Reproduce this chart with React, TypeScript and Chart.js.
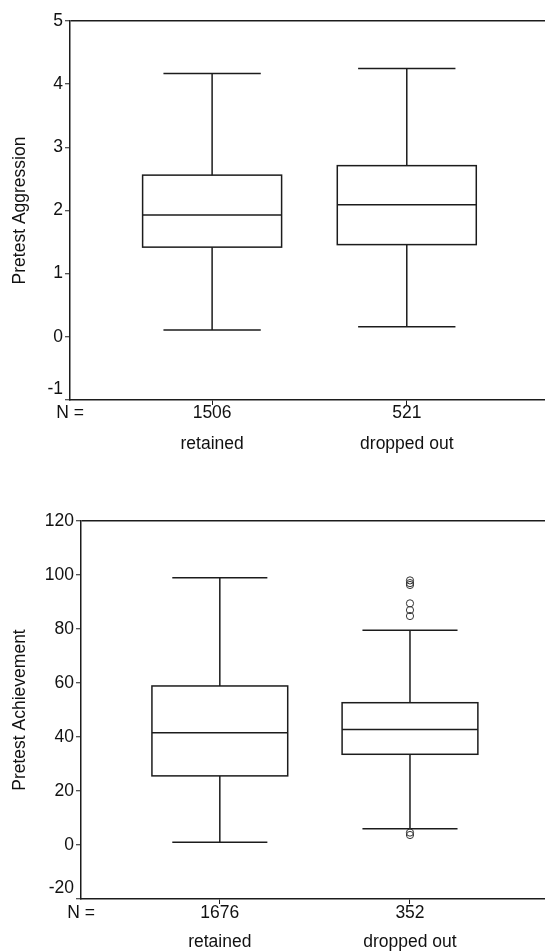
import React, { useEffect, useRef } from "react";
import { Chart, registerables } from "chart.js";

Chart.register(...registerables);

// ---------- data ----------
const categories = ["retained", "dropped out"];
const categoryPositions = [1, 2];

const aggressionN = [1506, 521];
const aggressionMin = [0.11, 0.16];
const aggressionQ1 = [1.42, 1.46];
const aggressionMedian = [1.93, 2.09];
const aggressionQ3 = [2.56, 2.71];
const aggressionMax = [4.17, 4.25];
const aggressionOutliers: number[][] = [[], []];
const aggressionTicks = [-1, 0, 1, 2, 3, 4, 5];

const achievementN = [1676, 352];
const achievementMin = [1.0, 6.0];
const achievementQ1 = [25.6, 33.6];
const achievementMedian = [41.6, 42.8];
const achievementQ3 = [58.9, 52.7];
const achievementMax = [99.0, 79.5];
const achievementOutliers: number[][] = [[], [98.0, 97.0, 96.3, 89.5, 87.0, 84.8, 4.6, 3.7]];
const achievementTicks = [-20, 0, 20, 40, 60, 80, 100, 120];

// ---------- style ----------
const FONT = "'Liberation Sans', Arial, Helvetica, sans-serif";
const INK = "#1c1c1c";
const X_MIN = 0.27;
const X_MAX = 2.71;
const BOX_HALF = 0.357;
const CAP_HALF = 0.25;

type Panel = {
  title: string;
  n: number[];
  mins: number[];
  q1s: number[];
  medians: number[];
  q3s: number[];
  maxs: number[];
  outliers: number[][];
  ticks: number[];
  height: number;
  padTop: number;
  xAxisHeight: number;
  yAxisWidth: number;
  labelLine: number;
  labelPad: number;
};

function boxPlugin(p: Panel) {
  return {
    id: "boxes",
    beforeDatasetsDraw(chart: any) {
      const xs = chart.scales.x;
      const ys = chart.scales.y;
      const ctx = chart.ctx;
      ctx.save();
      ctx.strokeStyle = INK;
      ctx.lineWidth = 1.5;
      categoryPositions.forEach((pos, i) => {
        const cx = xs.getPixelForValue(pos);
        const hw = Math.abs(xs.getPixelForValue(pos + BOX_HALF) - cx);
        const cw = Math.abs(xs.getPixelForValue(pos + CAP_HALF) - cx);
        const yMin = ys.getPixelForValue(p.mins[i]);
        const yQ1 = ys.getPixelForValue(p.q1s[i]);
        const yMed = ys.getPixelForValue(p.medians[i]);
        const yQ3 = ys.getPixelForValue(p.q3s[i]);
        const yMax = ys.getPixelForValue(p.maxs[i]);
        ctx.beginPath();
        ctx.moveTo(cx, yQ3);
        ctx.lineTo(cx, yMax);
        ctx.moveTo(cx, yQ1);
        ctx.lineTo(cx, yMin);
        ctx.moveTo(cx - cw, yMax);
        ctx.lineTo(cx + cw, yMax);
        ctx.moveTo(cx - cw, yMin);
        ctx.lineTo(cx + cw, yMin);
        ctx.moveTo(cx - hw, yMed);
        ctx.lineTo(cx + hw, yMed);
        ctx.stroke();
        ctx.strokeRect(cx - hw, yQ3, hw * 2, yQ1 - yQ3);
      });
      ctx.restore();
    },
  };
}

function makeConfig(p: Panel): any {
  const yMin = p.ticks[0];
  const yMax = p.ticks[p.ticks.length - 1];
  const points: { x: number; y: number }[] = [];
  p.outliers.forEach((list, i) =>
    list.forEach((v) => points.push({ x: categoryPositions[i], y: v }))
  );
  return {
    type: "scatter",
    data: {
      datasets: [
        {
          data: points,
          pointStyle: "circle",
          pointRadius: 3.6,
          borderColor: "#333",
          backgroundColor: "rgba(255,255,255,0)",
          borderWidth: 1,
        },
      ],
    },
    options: {
      animation: false,
      responsive: false,
      events: [],
      layout: {
        autoPadding: false,
        padding: { top: p.padTop, left: 0, right: 0, bottom: 0 },
      },
      plugins: { legend: { display: false }, tooltip: { enabled: false } },
      scales: {
        x: {
          type: "linear",
          min: X_MIN,
          max: X_MAX,
          afterBuildTicks: (axis: any) => {
            axis.ticks = [X_MIN, ...categoryPositions].map((v) => ({ value: v }));
          },
          afterFit: (scale: any) => {
            scale.height = p.xAxisHeight;
            scale.paddingRight = 0;
            scale.paddingLeft = 0;
          },
          ticks: {
            autoSkip: false,
            maxRotation: 0,
            minRotation: 0,
            padding: p.labelPad,
            color: "#111",
            font: { family: FONT, size: 17.5, lineHeight: p.labelLine / 17.5 },
            callback: (_v: any, i: number) =>
              i === 0 ? ["N =", "", ""] : [String(p.n[i - 1]), "", categories[i - 1]],
          },
          grid: {
            drawOnChartArea: false,
            drawTicks: true,
            tickLength: 5,
            tickWidth: 1,
            tickColor: (c: any) => (c.index === 0 ? "rgba(0,0,0,0)" : INK),
          },
          border: { display: true, color: INK, width: 1.5 },
        },
        y: {
          type: "linear",
          min: yMin,
          max: yMax,
          afterBuildTicks: (axis: any) => {
            axis.ticks = p.ticks.map((v) => ({ value: v }));
          },
          afterFit: (scale: any) => {
            scale.width = p.yAxisWidth;
          },
          ticks: {
            padding: 2,
            color: "#111",
            font: { family: FONT, size: 17.5 },
            callback: (v: any) => (v === yMin ? [String(v), ""] : String(v)),
          },
          grid: {
            drawOnChartArea: true,
            drawTicks: true,
            tickLength: 5,
            tickWidth: 1,
            tickColor: INK,
            lineWidth: 1.5,
            color: (c: any) => (c.tick && c.tick.value === yMax ? INK : "rgba(0,0,0,0)"),
          },
          border: { display: true, color: INK, width: 1.5 },
          title: {
            display: true,
            text: p.title,
            color: "#111",
            font: { family: FONT, size: 17.5 },
            padding: { top: 10, bottom: 0 },
          },
        },
      },
    },
    plugins: [boxPlugin(p)],
  };
}

const aggressionPanel: Panel = {
  title: "Pretest Aggression",
  n: aggressionN,
  mins: aggressionMin,
  q1s: aggressionQ1,
  medians: aggressionMedian,
  q3s: aggressionQ3,
  maxs: aggressionMax,
  outliers: aggressionOutliers,
  ticks: aggressionTicks,
  height: 470,
  padTop: 21,
  xAxisHeight: 70,
  yAxisWidth: 70,
  labelLine: 15.5,
  labelPad: 0.75,
};

const achievementPanel: Panel = {
  title: "Pretest Achievement",
  n: achievementN,
  mins: achievementMin,
  q1s: achievementQ1,
  medians: achievementMedian,
  q3s: achievementQ3,
  maxs: achievementMax,
  outliers: achievementOutliers,
  ticks: achievementTicks,
  height: 481,
  padTop: 51,
  xAxisHeight: 52,
  yAxisWidth: 81,
  labelLine: 14.5,
  labelPad: 1.75,
};

function BoxChart({ panel, top }: { panel: Panel; top: number }) {
  const ref = useRef<HTMLCanvasElement | null>(null);
  useEffect(() => {
    if (!ref.current) return;
    const chart = new Chart(ref.current, makeConfig(panel));
    return () => chart.destroy();
  }, [panel]);
  return (
    <div style={{ position: "absolute", left: 0, top, width: 545, height: panel.height }}>
      <canvas
        ref={ref}
        width={545}
        height={panel.height}
        style={{ display: "block", width: 545, height: panel.height }}
      />
    </div>
  );
}

export default function App() {
  return (
    <div
      style={{
        position: "absolute",
        left: 0,
        top: 0,
        width: 545,
        height: 951,
        overflow: "hidden",
        background: "#fff",
      }}
    >
      <BoxChart panel={aggressionPanel} top={0} />
      <BoxChart panel={achievementPanel} top={470} />
    </div>
  );
}
